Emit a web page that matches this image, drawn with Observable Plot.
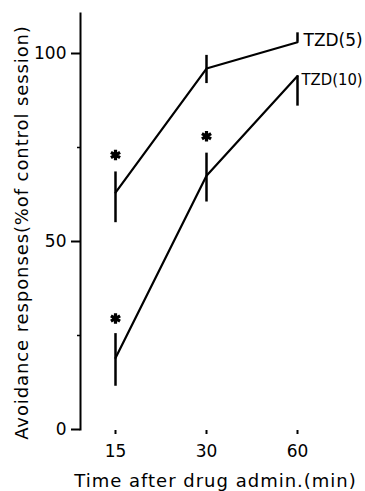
<!DOCTYPE html>
<html><head><meta charset="utf-8">
<script src="https://cdn.jsdelivr.net/npm/d3@7"></script>
<script src="https://cdn.jsdelivr.net/npm/@observablehq/plot@0.6"></script>
<style>body{margin:0;background:#fff} svg{display:block}</style>
</head><body><div id="chart"></div>
<script>
const times = ["15", "30", "60"];
const seriesNames = ["TZD(5)", "TZD(10)"];
const tzd5 = [63, 96, 103];
const tzd5Lo = [55, 92, 103];
const tzd5Hi = [68.5, 99.5, 105.5];
const tzd10 = [19, 67.5, 94];
const tzd10Lo = [11.5, 60.5, 86];
const tzd10Hi = [25.5, 73.5, 94];
const starTimes = ["15", "15", "30"];
const starValues = [73, 29.5, 78];
const yTicks = [0, 50, 100];
const yMinorTicks = [25, 75];
const xLabel = "Time after drug admin.(min)";
const yLabel = "Avoidance responses(%of control session)";

const rows = [];
times.forEach((t, i) => {
  rows.push({series: seriesNames[0], time: t, v: tzd5[i], lo: tzd5Lo[i], hi: tzd5Hi[i]});
  rows.push({series: seriesNames[1], time: t, v: tzd10[i], lo: tzd10Lo[i], hi: tzd10Hi[i]});
});
const stars = starTimes.map((t, i) => ({time: t, v: starValues[i]}));

const plot = Plot.plot({
  width: 365, height: 491,
  marginLeft: 80, marginRight: 15, marginTop: 13, marginBottom: 62,
  style: {fontFamily: "DejaVu Sans", fontSize: "16px", color: "#000", background: "#fff"},
  x: {type: "point", domain: times, range: [115, 297], padding: 0},
  y: {domain: [0, 100], range: [429, 53]},
  marks: [
    Plot.frame({anchor: "left", strokeWidth: 2}),
    Plot.axisY({ticks: yTicks, tickSize: 9, tickPadding: 5, strokeWidth: 2, fontSize: 17, label: null}),
    Plot.axisY({ticks: yMinorTicks, tickSize: 3, tickFormat: () => "", label: null, strokeWidth: 1.5}),
    Plot.ruleY([0], {x1: times[0], x2: times[2], dy: 1, strokeWidth: 2}),
    Plot.axisX({ticks: times, tickSize: 4, tickPadding: 10, strokeWidth: 2, fontSize: 17, label: null, dy: 1}),
    Plot.line(rows, {x: "time", y: "v", z: "series", stroke: "black", strokeWidth: 2.2}),
    Plot.ruleX(rows, {x: "time", y1: "lo", y2: "hi", stroke: "black", strokeWidth: 2.5}),
    Plot.dot(stars, {x: "time", y: "v", symbol: "asterisk", r: 5, strokeWidth: 3.2, fill: "black", stroke: "black"}),
    Plot.text([seriesNames[0]], {x: () => times[2], y: () => tzd5[2], text: d => d, textAnchor: "start", lineAnchor: "middle", dx: 6, dy: -2, fontSize: 17}),
    Plot.text([seriesNames[1]], {x: () => times[2], y: () => tzd10[2], text: d => d, textAnchor: "start", lineAnchor: "middle", dx: 4, dy: 4, fontSize: 16.5, fontFamily: "DejaVu Sans Condensed"}),
    Plot.text([yLabel], {text: d => d, frameAnchor: "left", textAnchor: "middle", lineAnchor: "middle", rotate: -90, dx: -58, dy: 11, fontSize: 18}),
    Plot.text([xLabel], {text: d => d, frameAnchor: "bottom", textAnchor: "middle", lineAnchor: "middle", dy: 52, fontSize: 18})
  ]
});
const svgText = d3.select(plot).selectAll("text");
svgText.filter(function() { return this.textContent === yLabel; }).attr("letter-spacing", "0.9px");
svgText.filter(function() { return this.textContent === xLabel; }).attr("letter-spacing", "1px");
document.getElementById("chart").appendChild(plot);
</script>
</body></html>
